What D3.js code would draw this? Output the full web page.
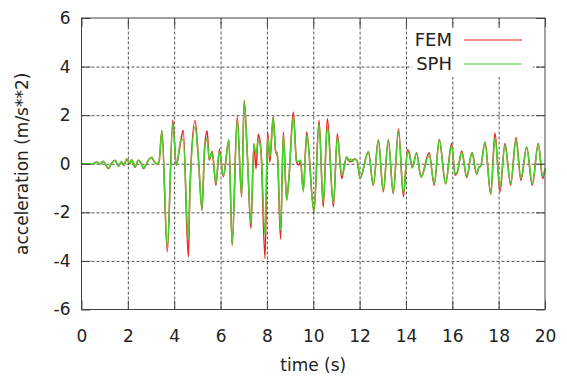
<!DOCTYPE html>
<html>
<head>
<meta charset="utf-8">
<script src="https://cdn.jsdelivr.net/npm/d3@7"></script>
<style>
  body { margin: 0; background: #fff; }
  text { font-family: "DejaVu Sans", sans-serif; fill: #222; }
  .grid line { stroke: #000; stroke-width: 0.8; stroke-dasharray: 3,2; opacity: 0.85; }
  .grid path { display: none; }
  .axis line { stroke: #444; stroke-width: 1; }
  .axis path { display: none; }
</style>
</head>
<body>
<div class="chart1"></div>
<script>
// time (s) at the turning points of the two records
var time = [0, 0.5, 0.65, 0.8, 0.94, 1.06, 1.16, 1.3, 1.45, 1.59, 1.73, 1.83, 1.95, 2.09, 2.17, 2.31, 2.45, 2.6, 2.67, 2.81, 2.88, 3.03, 3.13, 3.24, 3.34,
  3.47, 3.7, 3.94, 4.09, 4.29, 4.39, 4.61, 4.68, 4.9, 5.04, 5.2, 5.31, 5.42, 5.51, 5.64, 5.8, 5.95, 6.12, 6.36, 6.5, 6.72, 6.91, 7.02, 7.16, 7.31,
  7.44, 7.53, 7.63, 7.74, 7.92, 8.03, 8.13, 8.27, 8.38, 8.45, 8.59, 8.71, 8.85, 8.95, 9.14, 9.28, 9.38, 9.45, 9.57, 9.72, 10.03, 10.25, 10.43,
  10.61, 10.87, 11.04, 11.23, 11.32, 11.44, 11.52, 11.6, 11.7, 11.8, 11.9, 12.02, 12.38, 12.59, 12.81, 13.02, 13.24, 13.45, 13.68, 13.89,
  14.07, 14.15, 14.27, 14.46, 14.65, 15.0, 15.22, 15.44, 15.71, 15.97, 16.12, 16.2, 16.41, 16.62, 16.85, 17.05, 17.15, 17.22, 17.41, 17.66,
  17.84, 18.06, 18.27, 18.52, 18.75, 18.96, 19.21, 19.45, 19.71, 19.9, 20.0];

var fem = [0, 0, 0.07, 0.0, 0.1, -0.07, -0.2, 0.03, 0.14, -0.1, 0.07, -0.07, 0.2, 0.0, 0.16, -0.14, 0.14, -0.04, -0.2, 0.0, 0.14, 0.27, 0.1, 0.0, 0.05,
  1.36, -3.63, 1.79, -0.06, 0.97, 1.38, -3.84, -1.0, 1.77, 0.28, -1.91, 0.62, 1.36, 0.15, 0.5, -0.89, 0.6, -0.54, 0.97, -3.36, 1.95, -1.37, 2.6, 0.28, -2.67,
  0.83, -0.2, 1.21, 0.62, -3.9, 1.31, 0.08, 1.93, 0.49, 0.35, -3.1, 1.31, -1.5, -0.6, 2.13, 0.08, -0.05, 0.1, -1.09, 1.31, -1.98, 1.79, -1.78,
  1.86, -1.78, 1.24, -0.61, -0.2, 0.28, 0.15, 0.08, 0.15, 0.2, 0.08, -0.6, 0.49, -0.89, 0.99, -1.16, 0.99, -1.23, 1.43, -1.36,
  0.58, 0.42, -0.16, 0.45, -0.54, 0.45, -0.88, 1.0, -0.82, 0.83, -0.47, -0.4, 0.53, -0.57, 0.46, -0.43, -0.13, -0.12, 0.9, -1.26,
  1.27, -1.16, 0.83, -0.88, 1.08, -0.68, 0.69, -0.88, 0.83, -0.61, -0.2];

var sph = [0, 0, 0.06, 0.0, 0.09, -0.06, -0.19, 0.03, 0.13, -0.1, 0.08, -0.06, 0.2, 0.01, 0.15, -0.13, 0.14, -0.03, -0.18, 0.0, 0.13, 0.26, 0.1, 0.0, 0.05,
  1.35, -3.43, 1.65, -0.06, 0.97, 1.0, -3.1, -1.1, 1.51, 0.3, -1.85, 0.6, 1.04, 0.2, 0.45, -0.8, 0.5, -0.5, 1.0, -3.3, 1.8, -1.3, 2.56, 0.3, -2.46,
  0.8, 0.4, 0.97, 0.6, -2.94, 1.1, 0.3, 1.9, 0.5, 0.45, -2.74, 1.17, -1.5, -0.6, 1.93, 0.1, 0.1, 0.15, -1.16, 1.17, -1.98, 1.65, -1.6,
  1.51, -1.64, 1.1, -0.47, -0.25, 0.3, 0.1, 0.2, 0.1, 0.2, 0.1, -0.57, 0.49, -0.86, 0.97, -1.1, 0.96, -1.18, 1.31, -1.23,
  0.49, 0.4, -0.18, 0.43, -0.56, 0.35, -0.8, 0.98, -0.82, 0.75, -0.42, -0.38, 0.45, -0.5, 0.45, -0.4, -0.15, -0.1, 0.88, -1.24,
  1.04, -0.95, 0.75, -0.8, 0.97, -0.6, 0.68, -0.82, 0.8, -0.5, -0.2];

var xTicks = [0, 2, 4, 6, 8, 10, 12, 14, 16, 18, 20];
var yTicks = [-6, -4, -2, 0, 2, 4, 6];
var seriesNames = ["FEM", "SPH"];
var seriesColors = ["#ee2222", "#44d42a"];

var width = 567, height = 376;
var plotLeft = 81.5, plotRight = 545, plotTop = 18, plotBottom = 309.5;

var svg = d3.select(".chart1")
    .append("svg")
    .attr("width", width)
    .attr("height", height);

var xScale = d3.scaleLinear().domain([0, 20]).range([plotLeft, plotRight]);
var yScale = d3.scaleLinear().domain([-6, 6]).range([plotBottom, plotTop]);

// plain hyphen minus like the original
var plainNum = function(d) { return String(d); };

// grid lines (inner ticks only)
svg.append("g")
    .attr("class", "grid")
    .attr("transform", "translate(0," + plotBottom + ")")
    .call(d3.axisBottom(xScale).tickValues(xTicks.slice(1, -1)).tickSize(-(plotBottom - plotTop)).tickFormat(""));

svg.append("g")
    .attr("class", "grid")
    .attr("transform", "translate(" + plotLeft + ",0)")
    .call(d3.axisLeft(yScale).tickValues(yTicks.slice(1, -1)).tickSize(-(plotRight - plotLeft)).tickFormat(""));

// the two records
var data = [fem, sph];
var line = d3.line()
    .x(function(d, i) { return xScale(time[i]); })
    .y(function(d) { return yScale(d); })
    .curve(d3.curveMonotoneX);

svg.selectAll(".series")
    .data(data)
    .enter()
    .append("path")
    .attr("class", "series")
    .attr("d", line)
    .attr("fill", "none")
    .attr("stroke", function(d, i) { return seriesColors[i]; })
    .attr("stroke-width", 1.5)
    .attr("stroke-linejoin", "round");

// key box
svg.append("rect")
    .attr("x", 412)
    .attr("y", 28)
    .attr("width", 121)
    .attr("height", 49)
    .attr("fill", "#fff");

seriesNames.forEach(function(name, i) {
  var y = 40 + i * 24;
  svg.append("text")
      .attr("x", 452)
      .attr("y", y)
      .attr("dy", "0.36em")
      .attr("text-anchor", "end")
      .style("font-size", "18px")
      .text(name);
  svg.append("line")
      .attr("x1", 464)
      .attr("x2", 522)
      .attr("y1", y)
      .attr("y2", y)
      .attr("stroke", seriesColors[i])
      .attr("stroke-width", 1.2);
});

// axes with inward ticks
svg.append("g")
    .attr("class", "axis")
    .attr("transform", "translate(0," + plotBottom + ")")
    .call(d3.axisBottom(xScale).tickValues(xTicks).tickSize(-9).tickSizeOuter(0).tickPadding(20).tickFormat(plainNum));

svg.append("g")
    .attr("class", "axis")
    .attr("transform", "translate(" + plotLeft + ",0)")
    .call(d3.axisLeft(yScale).tickValues(yTicks).tickSize(-9).tickSizeOuter(0).tickPadding(11).tickFormat(plainNum));

svg.append("g")
    .attr("class", "axis")
    .attr("transform", "translate(0," + plotTop + ")")
    .call(d3.axisTop(xScale).tickValues(xTicks).tickSize(-9).tickSizeOuter(0).tickFormat(""));

svg.append("g")
    .attr("class", "axis")
    .attr("transform", "translate(" + plotRight + ",0)")
    .call(d3.axisRight(yScale).tickValues(yTicks).tickSize(-9).tickSizeOuter(0).tickFormat(""));

svg.selectAll(".axis text")
    .attr("fill", "#222")
    .style("font-family", "DejaVu Sans")
    .style("font-size", "17px");

// border
svg.append("rect")
    .attr("x", plotLeft)
    .attr("y", plotTop)
    .attr("width", plotRight - plotLeft)
    .attr("height", plotBottom - plotTop)
    .attr("fill", "none")
    .attr("stroke", "#444")
    .attr("stroke-width", 1);

// axis labels
svg.append("text")
    .attr("x", (plotLeft + plotRight) / 2)
    .attr("y", 371)
    .attr("text-anchor", "middle")
    .style("font-size", "17px")
    .text("time (s)");

svg.append("text")
    .attr("transform", "translate(28," + ((plotTop + plotBottom) / 2) + ") rotate(-90)")
    .attr("text-anchor", "middle")
    .style("font-size", "17px")
    .text("acceleration (m/s**2)");
</script>
</body>
</html>
